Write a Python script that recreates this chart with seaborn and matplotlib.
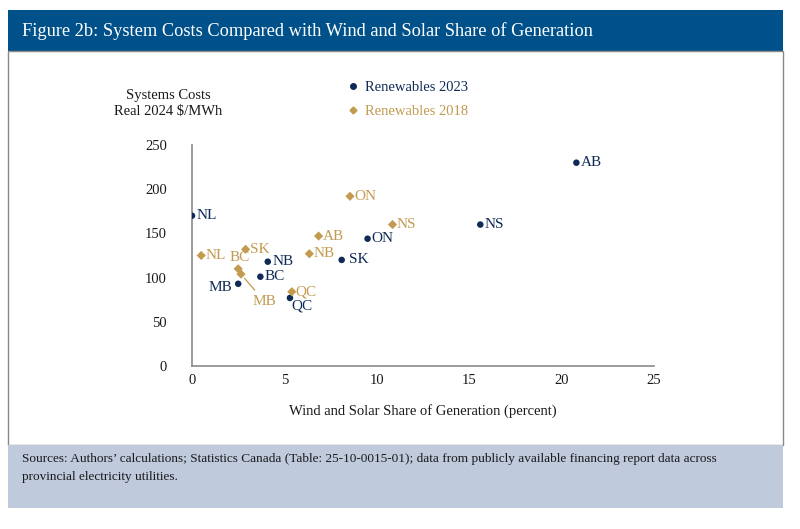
import numpy as np
import pandas as pd
import matplotlib
matplotlib.use("Agg")
import matplotlib.pyplot as plt
from matplotlib.lines import Line2D
from matplotlib.patches import Rectangle
import seaborn as sns

# data
provinces_2023 = ["NL", "MB", "BC", "NB", "QC", "SK", "ON", "NS", "AB"]
share_2023 = [0.0, 2.5, 3.7, 4.1, 5.3, 8.1, 9.5, 15.6, 20.8]
cost_2023 = [170, 93, 101, 118, 77, 120, 144, 160, 230]

provinces_2018 = ["NL", "SK", "BC", "MB", "QC", "NB", "AB", "ON", "NS"]
share_2018 = [0.5, 2.9, 2.5, 2.65, 5.4, 6.35, 6.85, 8.55, 10.85]
cost_2018 = [125, 132, 110, 104, 84, 127, 147, 192, 160]

series_names = ["Renewables 2023", "Renewables 2018"]

NAVY = "#0f2a56"
GOLD = "#c29a50"
HEADER = "#00508a"
FOOTER = "#bfcadd"

df = pd.concat([
    pd.DataFrame({"prov": provinces_2023, "share": share_2023, "cost": cost_2023, "series": series_names[0]}),
    pd.DataFrame({"prov": provinces_2018, "share": share_2018, "cost": cost_2018, "series": series_names[1]}),
], ignore_index=True)

sns.set_theme(style="white")
plt.rcParams["font.family"] = ["Liberation Serif", "DejaVu Serif"]

fig = plt.figure(figsize=(8, 5.29), dpi=100)

# header band, chart frame and footer band (behind the axes)
fig.patches.append(Rectangle((8 / 800, 1 - 51 / 529), 775 / 800, 41 / 529, transform=fig.transFigure,
                             facecolor=HEADER, edgecolor="none", zorder=-2))
fig.patches.append(Rectangle((8 / 800, 1 - 445 / 529), 775 / 800, 394 / 529, transform=fig.transFigure,
                             facecolor="white", edgecolor="#8a8a8a", linewidth=1.0, zorder=-2))
fig.patches.append(Rectangle((8 / 800, 1 - 508 / 529), 775 / 800, 63 / 529, transform=fig.transFigure,
                             facecolor=FOOTER, edgecolor="none", zorder=-2))
fig.text(22 / 800, 1 - 31 / 529, "Figure 2b: System Costs Compared with Wind and Solar Share of Generation",
         color="white", fontsize=13.2, va="center", ha="left")
fig.text(22 / 800, 1 - 468 / 529,
         "Sources: Authors\u2019 calculations; Statistics Canada (Table: 25-10-0015-01); data from publicly available financing report data across\nprovincial electricity utilities.",
         color="#1a1a1a", fontsize=9.5, va="center", ha="left", linespacing=1.6)

ax = fig.add_axes([192 / 800, 1 - 366 / 529, 462 / 800, 221 / 529])
ax.set_zorder(1)
ax.set_facecolor("none")

sns.scatterplot(data=df, x="share", y="cost", hue="series", style="series",
                palette={series_names[0]: NAVY, series_names[1]: GOLD},
                markers={series_names[0]: "o", series_names[1]: "D"},
                s=22, linewidth=0, ax=ax, legend=False, zorder=3)

ax.set_xlim(0, 25)
ax.set_ylim(0, 250)
ax.set_xticks([0, 5, 10, 15, 20, 25])
ax.set_yticks([0, 50, 100, 150, 200, 250])
ax.tick_params(axis="both", length=0, labelsize=10.5, colors="#1a1a1a")
ax.tick_params(axis="y", pad=18)
ax.tick_params(axis="x", pad=6)
for side in ["top", "right"]:
    ax.spines[side].set_visible(False)
for side in ["left", "bottom"]:
    ax.spines[side].set_color("#8a8a8a")
    ax.spines[side].set_linewidth(1.2)
ax.set_xlabel("Wind and Solar Share of Generation (percent)", fontsize=10.5, color="#1a1a1a", labelpad=12)
ax.set_ylabel("")

fig.text(168 / 800, 1 - 103 / 529, "Systems Costs\nReal 2024 $/MWh", ha="center", va="center",
         fontsize=10.5, color="#1a1a1a", linespacing=1.3)

# point labels: (dx, dy, ha) in pixels
offs_2023 = {"NL": (5, 0, "left"), "MB": (-6, -4, "right"), "BC": (4, 0, "left"), "NB": (5, 0, "left"),
             "QC": (1, -8, "left"), "SK": (7, 0, "left"), "ON": (4, 0, "left"), "NS": (4, 0, "left"),
             "AB": (4, 0, "left")}
offs_2018 = {"NL": (4, 0, "left"), "SK": (4, 0, "left"), "BC": (1, 11, "center"), "QC": (4, 0, "left"),
             "NB": (4, 0, "left"), "AB": (4, 0, "left"), "ON": (4, 0, "left"), "NS": (4, 0, "left")}

for p, x, y in zip(provinces_2023, share_2023, cost_2023):
    dx, dy, ha = offs_2023[p]
    ax.annotate(p, (x, y), xytext=(dx, dy), textcoords="offset pixels", ha=ha, va="center",
                fontsize=11, color=NAVY, annotation_clip=False)

for p, x, y in zip(provinces_2018, share_2018, cost_2018):
    if p == "MB":
        ax.annotate(p, (x, y), xytext=(23, -27), textcoords="offset pixels", ha="center", va="center",
                    fontsize=11, color=GOLD,
                    arrowprops=dict(arrowstyle="-", color=GOLD, lw=0.9, shrinkA=1, shrinkB=4))
        continue
    dx, dy, ha = offs_2018[p]
    ax.annotate(p, (x, y), xytext=(dx, dy), textcoords="offset pixels", ha=ha, va="center",
                fontsize=11, color=GOLD, annotation_clip=False)

handles = [Line2D([], [], marker="o", color=NAVY, linestyle="none", markersize=4),
           Line2D([], [], marker="D", color=GOLD, linestyle="none", markersize=3.5)]
leg = ax.legend(handles, series_names, frameon=False, loc="upper left",
                bbox_to_anchor=(340 / 800, 1 - 75 / 529), bbox_transform=fig.transFigure,
                fontsize=10.5, labelcolor=[NAVY, GOLD], handletextpad=0.3, labelspacing=0.75,
                handlelength=1.0, borderaxespad=0)

fig.savefig("out.png", dpi=100)
